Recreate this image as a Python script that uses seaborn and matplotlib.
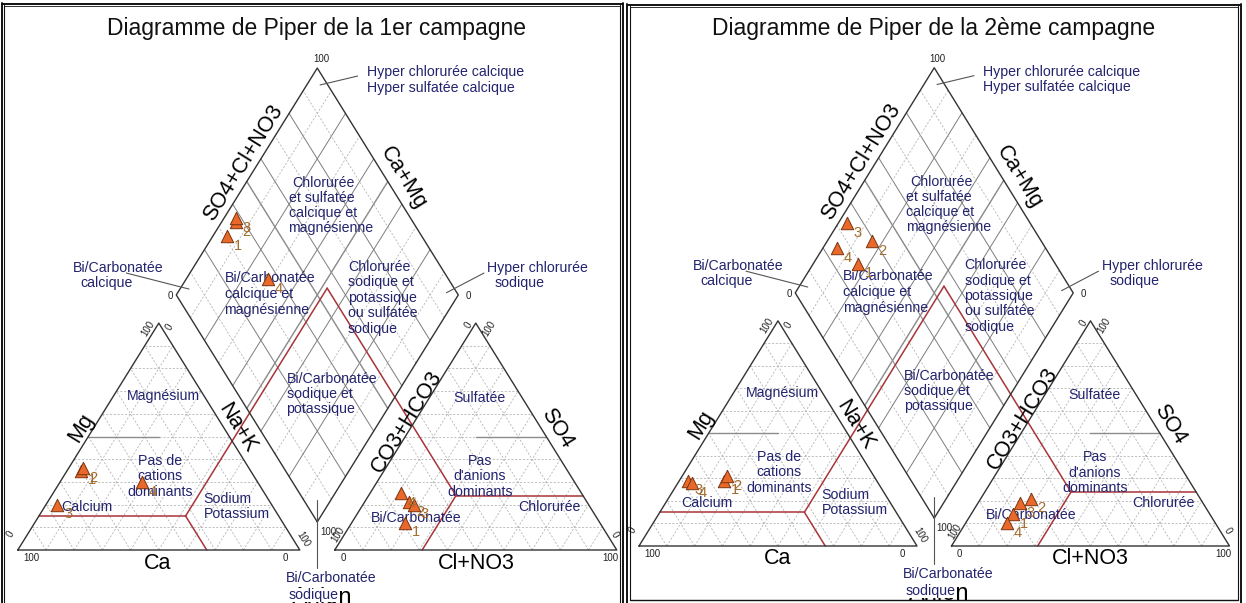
import numpy as np
import pandas as pd
import seaborn as sns
import matplotlib.pyplot as plt
from matplotlib.lines import Line2D

sns.set_theme(style='white')
plt.rcParams['font.family'] = ['Liberation Sans', 'DejaVu Sans']

# Échantillons (% meq)
echantillons = ['1', '2', '3', '4']

# 1ère campagne
ca_c1 = [60, 59, 76, 41]
mg_c1 = [35, 36, 20, 30]
nak_c1 = [5, 5, 4, 29]
hco3_c1 = [69, 63, 62, 64]
so4_c1 = [12, 21, 20, 25]
cl_c1 = [19, 16, 18, 11]

# 2ème campagne
ca_c2 = [55, 53, 68, 67]
mg_c2 = [29, 31, 29, 28]
nak_c2 = [16, 16, 3, 5]
hco3_c2 = [71, 61, 66, 75]
so4_c2 = [14, 21, 19, 10]
cl_c2 = [15, 18, 15, 15]

titres = ['Diagramme de Piper de la 1er campagne',
          'Diagramme de Piper de la 2ème campagne']

# limites des faciès (fractions)
lim_mg, lim_ca, lim_nak = 0.15, 0.33, 0.52
lim_so4, lim_cl, lim_hco3 = 0.24, 0.31, 0.45

G = 0.124            # écart entre les triangles
H = np.sqrt(3) / 2
OX = 1 + G           # origine du triangle des anions
BX, BY = 1 + G / 2, G * H   # sommet bas du losange

W_PX, H_PX = 1246, 603
BLEU = '#23236e'
ROUGE = '#a8343a'
GRIS = '#8c8c8c'


def cation_xy(ca, mg, nak):
    t = ca + mg + nak
    return (nak + mg / 2) / t, H * mg / t


def anion_xy(hco3, so4, cl):
    t = hco3 + so4 + cl
    return OX + (cl + so4 / 2) / t, H * so4 / t


def losange_xy(c, a):
    # c = fraction Ca+Mg, a = fraction SO4+Cl+NO3
    return BX + 0.5 * (a - c), BY + H * (a + c)


def ligne(ax, p, q, **kw):
    ax.plot([p[0], q[0]], [p[1], q[1]], **kw)


def grille(ax):
    pointille = dict(color='#b5b5b5', lw=0.6, ls=(0, (2.5, 2)), zorder=1)
    plein = dict(color='#7d7d7d', lw=0.7, zorder=1)
    for f in np.arange(1, 10) / 10:
        for ox in (0, OX):
            ligne(ax, (ox + f / 2, H * f), (ox + 1 - f / 2, H * f), **pointille)
            ligne(ax, (ox + f, 0), (ox + f + (1 - f) / 2, H * (1 - f)), **pointille)
            ligne(ax, (ox + 1 - f, 0), (ox + (1 - f) / 2, H * (1 - f)), **pointille)
        st = plein if round(f * 10) % 2 == 0 else pointille
        ligne(ax, losange_xy(f, 0), losange_xy(f, 1), **st)
        ligne(ax, losange_xy(0, f), losange_xy(1, f), **st)
    # lignes 50 %
    gris50 = dict(color=GRIS, lw=1.0, zorder=1.5)
    ligne(ax, (0.25, H / 2), (0.5, H / 2), **gris50)
    ligne(ax, (OX + 0.5, H / 2), (OX + 0.75, H / 2), **gris50)
    ligne(ax, losange_xy(0.5, 0), losange_xy(0.5, 1), **gris50)
    ligne(ax, losange_xy(0, 0.5), losange_xy(1, 0.5), **gris50)
    # contours
    bord = dict(color='#333333', lw=1.0, zorder=3)
    for ox in (0, OX):
        ax.plot([ox, ox + 1, ox + 0.5, ox], [0, 0, H, 0], **bord)
    coins = [losange_xy(0, 0), losange_xy(1, 0), losange_xy(1, 1),
             losange_xy(0, 1), losange_xy(0, 0)]
    ax.plot([c[0] for c in coins], [c[1] for c in coins], **bord)
    # limites des faciès
    rouge = dict(color=ROUGE, lw=1.1, zorder=2)
    sommet = losange_xy(1 - lim_nak, 1 - lim_hco3)
    p = (lim_nak + lim_mg / 2, H * lim_mg)
    ligne(ax, (lim_mg / 2, H * lim_mg), p, **rouge)
    ligne(ax, p, (1 - lim_ca, 0), **rouge)
    ligne(ax, p, sommet, **rouge)
    q = (OX + lim_cl + lim_so4 / 2, H * lim_so4)
    ligne(ax, q, (OX + 1 - lim_so4 / 2, H * lim_so4), **rouge)
    ligne(ax, q, (OX + lim_cl, 0), **rouge)
    ligne(ax, q, sommet, **rouge)


textes_regions = [
    ('Hyper chlorurée calcique', 1.238, 1.824, 'left'),
    ('Hyper sulfatée calcique', 1.238, 1.765, 'left'),
    ('Bi/Carbonatée', 0.357, 1.076, 'center'),
    ('calcique', 0.315, 1.019, 'center'),
    ('Hyper chlorurée', 1.664, 1.076, 'left'),
    ('sodique', 1.692, 1.019, 'left'),
    ('Chlorurée', 0.974, 1.401, 'left'),
    ('et sulfatée', 0.960, 1.344, 'left'),
    ('calcique et', 0.960, 1.286, 'left'),
    ('magnésienne', 0.960, 1.228, 'left'),
    ('Bi/Carbonatée', 0.733, 1.038, 'left'),
    ('calcique et', 0.733, 0.977, 'left'),
    ('magnésienne', 0.733, 0.916, 'left'),
    ('Chlorurée', 1.171, 1.080, 'left'),
    ('sodique et', 1.171, 1.021, 'left'),
    ('potassique', 1.171, 0.962, 'left'),
    ('ou sulfatée', 1.171, 0.903, 'left'),
    ('sodique', 1.171, 0.844, 'left'),
    ('Bi/Carbonatée', 0.953, 0.653, 'left'),
    ('sodique et', 0.953, 0.595, 'left'),
    ('potassique', 0.953, 0.538, 'left'),
    ('Magnésium', 0.515, 0.588, 'center'),
    ('Pas de', 0.504, 0.341, 'center'),
    ('cations', 0.504, 0.284, 'center'),
    ('dominants', 0.504, 0.223, 'center'),
    ('Calcium', 0.245, 0.165, 'center'),
    ('Sodium', 0.742, 0.195, 'center'),
    ('Potassium', 0.777, 0.139, 'center'),
    ('Sulfatée', 1.637, 0.581, 'center'),
    ('Pas', 1.639, 0.341, 'center'),
    ("d'anions", 1.639, 0.282, 'center'),
    ('dominants', 1.639, 0.223, 'center'),
    ('Chlorurée', 1.887, 0.165, 'center'),
    ('Bi/Carbonatée', 1.412, 0.121, 'center'),
    ('Bi/Carbonatée', 1.113, -0.107, 'center'),
]

# (texte, x, y, sens de rotation : 1 = montant, -1 = descendant, 0 = horizontal)
noms_axes = [
    ('SO4+Cl+NO3', 0.799, 1.477, 1),
    ('Ca+Mg', 1.366, 1.420, -1),
    ('Mg', 0.224, 0.466, 1),
    ('Na+K', 0.777, 0.466, -1),
    ('Ca', 0.497, -0.050, 0),
    ('CO3+HCO3', 1.380, 0.489, 1),
    ('SO4', 1.912, 0.466, -1),
    ('Cl+NO3', 1.625, -0.050, 0),
]

graduations = [
    ('100', 1.075, 1.874, 0), ('0', 0.540, 0.969, 0), ('0', 1.598, 0.969, 0),
    ('100', 1.100, 0.069, 0),
    ('100', 0.462, 0.847, 1), ('0', 0.537, 0.851, 1), ('0', -0.025, 0.060, 1),
    ('100', 0.049, -0.031, 0), ('0', 0.948, -0.031, 0), ('100', 1.010, 0.040, -1),
    ('0', 1.598, 0.859, 1), ('100', 1.671, 0.847, 1), ('100', 1.135, 0.057, 1),
    ('0', 1.153, -0.031, 0), ('100', 2.102, -0.031, 0), ('0', 2.118, 0.057, -1),
]

renvois = [
    ((1.205, 1.809), (1.072, 1.775)),
    ((0.385, 1.057), (0.607, 0.996)),
    ((1.653, 1.057), (1.520, 0.982)),
    ((BX, 0.19), (BX, -0.07)),
]

# position des panneaux en pixels : origine x, origine y, px par unité x, y
panneaux = [
    dict(x0=17.8, y0=550, sx=282, sy=262, gauche=0, droite=623),
    dict(x0=639, y0=546, sx=278, sy=260, gauche=626, droite=1246),
]

campagnes = [
    (ca_c1, mg_c1, nak_c1, hco3_c1, so4_c1, cl_c1),
    (ca_c2, mg_c2, nak_c2, hco3_c2, so4_c2, cl_c2),
]

fig = plt.figure(figsize=(W_PX / 100, H_PX / 100), dpi=100)
fig.patch.set_facecolor('white')

for pan, camp, titre in zip(panneaux, campagnes, titres):
    ax = fig.add_axes([pan['gauche'] / W_PX, 0,
                       (pan['droite'] - pan['gauche']) / W_PX, 1])
    ca, mg, nak, hco3, so4, cl = camp

    xs, ys, nums = [], [], []
    for i, n in enumerate(echantillons):
        pc = cation_xy(ca[i], mg[i], nak[i])
        pa = anion_xy(hco3[i], so4[i], cl[i])
        c = (ca[i] + mg[i]) / (ca[i] + mg[i] + nak[i])
        a = (so4[i] + cl[i]) / (hco3[i] + so4[i] + cl[i])
        pl = losange_xy(c, a)
        for pt in (pc, pa, pl):
            xs.append(pt[0])
            ys.append(pt[1])
            nums.append(n)
    df = pd.DataFrame({'x': xs, 'y': ys, 'num': nums})

    grille(ax)
    sns.scatterplot(data=df, x='x', y='y', marker='^', s=80, color='#e8692a',
                    edgecolor='#7a3410', linewidth=0.7, ax=ax, zorder=6,
                    legend=False)
    for _, r in df.iterrows():
        ax.annotate(r['num'], (r['x'], r['y']), xytext=(5, -7),
                    textcoords='offset points', fontsize=10.5, color='#a36b2c',
                    ha='left', va='center', zorder=7)

    ang = np.degrees(np.arctan2(H * pan['sy'], 0.5 * pan['sx']))

    for txt, x, y, ha in textes_regions:
        ax.text(x, y, txt, fontsize=10.2, color=BLEU, ha=ha, va='center', zorder=4)
    ax.text(1.050, -0.172, 'sodique', fontsize=10.2, color=BLEU, ha='center',
            va='center', zorder=5,
            bbox=dict(facecolor='white', edgecolor='none', pad=0.3))
    ax.text(1.080, -0.185, 'Anion', fontsize=17, color='black', ha='center',
            va='center', zorder=4)

    for txt, x, y, s in noms_axes:
        ax.text(x, y, txt, fontsize=15.5, color='black', ha='center', va='center',
                rotation=s * ang, rotation_mode='anchor', zorder=4)
    for txt, x, y, s in graduations:
        ax.text(x, y, txt, fontsize=7, color='#222222', ha='center', va='center',
                rotation=s * ang, rotation_mode='anchor', zorder=4)
    for p, q in renvois:
        ligne(ax, p, q, color='#555555', lw=0.8, zorder=3)

    ax.text(1.06, 1.99, titre, fontsize=16.5, color='#111111', ha='center',
            va='center')

    ax.set_xlim((pan['gauche'] - pan['x0']) / pan['sx'],
                (pan['droite'] - pan['x0']) / pan['sx'])
    ax.set_ylim((pan['y0'] - H_PX) / pan['sy'], pan['y0'] / pan['sy'])
    ax.axis('off')

# cadres des deux panneaux
cadres = [
    ([1.5, 1.5], [3, 603], 1.4), ([4, 4], [5, 603], 0.8),
    ([620, 620], [5, 603], 0.8), ([623, 623], [3, 603], 1.4),
    ([1.5, 623], [3.5, 3.5], 1.4), ([4, 620], [5.5, 5.5], 0.6),
    ([627, 627], [4, 603], 1.4), ([630, 630], [6, 600], 0.8),
    ([1238, 1238], [6, 600], 0.8), ([1241, 1241], [4, 603], 1.4),
    ([627, 1241], [4.5, 4.5], 1.4), ([630, 1238], [6.5, 6.5], 0.6),
    ([630, 1238], [600, 600], 1.0),
]
for xp, yp, lw in cadres:
    fig.add_artist(Line2D([v / W_PX for v in xp], [1 - v / H_PX for v in yp],
                          color='#111111', lw=lw))

fig.savefig('out.png', dpi=100, facecolor='white')
